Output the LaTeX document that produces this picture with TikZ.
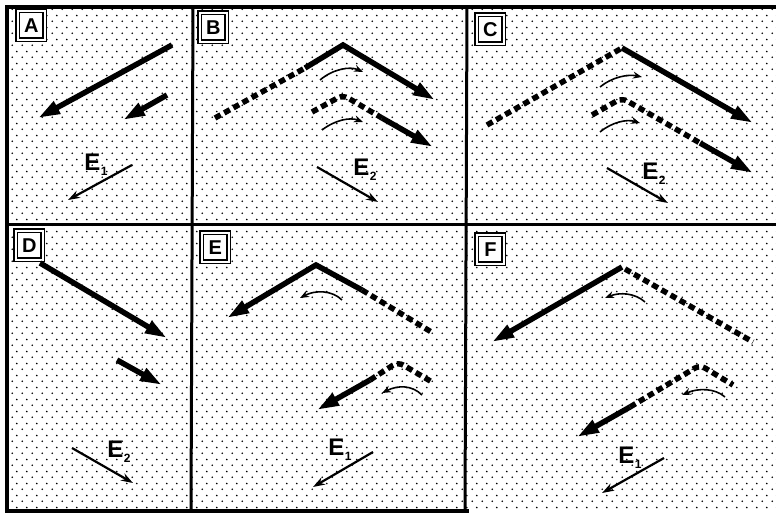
\documentclass[tikz,border=0pt]{standalone}
\usepackage{fontspec}
\setsansfont{Liberation Sans}
\usetikzlibrary{arrows.meta,patterns.meta}

\tikzdeclarepattern{
  name=speckle, type=colored,
  bottom left={(0pt,0pt)}, top right={(9.5pt,11.6pt)},
  tile size={(9.5pt,11.6pt)},
  code={\fill[black] (2.375pt,2.9pt) circle (0.95pt);
        \fill[black] (7.125pt,8.7pt) circle (0.95pt);}
}

\begin{document}
\begin{tikzpicture}[x=1pt,y=-1pt,
  frame/.style={line width=4pt, line cap=rect},
  divider/.style={line width=3pt},
  bigarrow/.style={line width=5.5pt, -{Triangle[length=22pt,width=13pt]}},
  dashpath/.style={line width=5.5pt, dash pattern=on 6.5pt off 4pt},
  field/.style={line width=2.2pt, -{Stealth[length=12pt,width=8pt]}},
  turn/.style={line width=1.6pt, -{Stealth[length=9pt,width=7pt]}},
  tag/.style={draw, line width=1.8pt, double=white, double distance=1.5pt, fill=white,
    minimum width=27pt, minimum height=29pt, inner sep=0pt, anchor=north west,
    font=\sffamily\bfseries\fontsize{20}{20}\selectfont},
  elabel/.style={inner sep=0pt, font=\sffamily\bfseries\fontsize{24}{24}\selectfont}
]
\useasboundingbox (0,0) rectangle (776,515);
\fill[white] (0,0) rectangle (776,515);
\fill[pattern=speckle] (7,7) rectangle (776,511);

% frame
\draw[frame] (776,7) -- (7,7) -- (7,511) -- (467,511);
\draw[divider] (193,7) -- (191,511);
\draw[divider] (467,7) -- (465,511);
\draw[divider] (7,224) -- (776,224);

% tags
\node[tag] (tA) at (17,10) {A};
\node[tag] (tB) at (199,12) {B};
\node[tag] (tC) at (476,14) {C};
\node[tag] (tD) at (15,230) {D};
\node[tag] (tE) at (201,232) {E};
\node[tag] (tF) at (476,234) {F};

% panel A
\draw[bigarrow] (172,45) -- (38,118);
\draw[bigarrow] (167,95) -- (123,120);
\draw[field] (132,165) -- (68,200);
\node[elabel] (lA) at (96,165) {E\kern0.5pt\raisebox{-5pt}{\fontsize{12}{12}\selectfont 1}};

% panel B
\draw[dashpath] (215,118) -- (305,68);
\draw[bigarrow] (305,68) -- (343,45) -- (435,100);
\draw[turn] (320,80) .. controls (333,69) and (350,66) .. (363,72);
\draw[dashpath, rounded corners=6pt] (312,112) -- (343,95) -- (382,118);
\draw[bigarrow] (382,118) -- (433,147);
\draw[turn] (322,130) .. controls (335,120) and (350,117) .. (363,122);
\draw[field] (317,167) -- (378,202);
\node[elabel] (lB) at (365,170) {E\kern0.5pt\raisebox{-5pt}{\fontsize{12}{12}\selectfont 2}};

% panel C
\draw[dashpath] (487,125) -- (622,48);
\draw[bigarrow] (622,48) -- (753,123);
\draw[turn] (600,87) .. controls (612,77) and (628,74) .. (642,77);
\draw[dashpath, rounded corners=6pt] (592,115) -- (622,98) -- (700,143);
\draw[bigarrow] (700,143) -- (753,173);
\draw[turn] (600,132) .. controls (612,122) and (627,119) .. (640,123);
\draw[field] (607,168) -- (668,203);
\node[elabel] (lC) at (654,174) {E\kern0.5pt\raisebox{-5pt}{\fontsize{12}{12}\selectfont 2}};

% panel D
\draw[bigarrow] (40,263) -- (167,338);
\draw[bigarrow] (117,360) -- (162,385);
\draw[field] (72,448) -- (133,483);
\node[elabel] (lD) at (119,452) {E\kern0.5pt\raisebox{-5pt}{\fontsize{12}{12}\selectfont 2}};

% panel E
\draw[bigarrow] (362,290) -- (316,265) -- (227,318);
\draw[dashpath] (362,290) -- (433,333);
\draw[turn] (342,300) .. controls (332,290) and (315,290) .. (300,298);
\draw[dashpath, rounded corners=6pt] (370,380) -- (398,362) -- (432,382);
\draw[bigarrow] (370,380) -- (317,410);
\draw[turn] (422,395) .. controls (412,385) and (398,385) .. (382,393);
\draw[field] (373,452) -- (313,487);
\node[elabel] (lE) at (340,450) {E\kern0.5pt\raisebox{-5pt}{\fontsize{12}{12}\selectfont 1}};

% panel F
\draw[bigarrow] (622,267) -- (492,342);
\draw[dashpath] (625,269) -- (753,342);
\draw[turn] (645,302) .. controls (635,293) and (620,292) .. (605,298);
\draw[dashpath, rounded corners=6pt] (630,407) -- (700,365) -- (733,385);
\draw[bigarrow] (630,407) -- (577,437);
\draw[turn] (725,397) .. controls (715,388) and (698,388) .. (682,395);
\draw[field] (664,458) -- (602,493);
\node[elabel] (lF) at (630,458) {E\kern0.5pt\raisebox{-5pt}{\fontsize{12}{12}\selectfont 1}};
\end{tikzpicture}
\end{document}
